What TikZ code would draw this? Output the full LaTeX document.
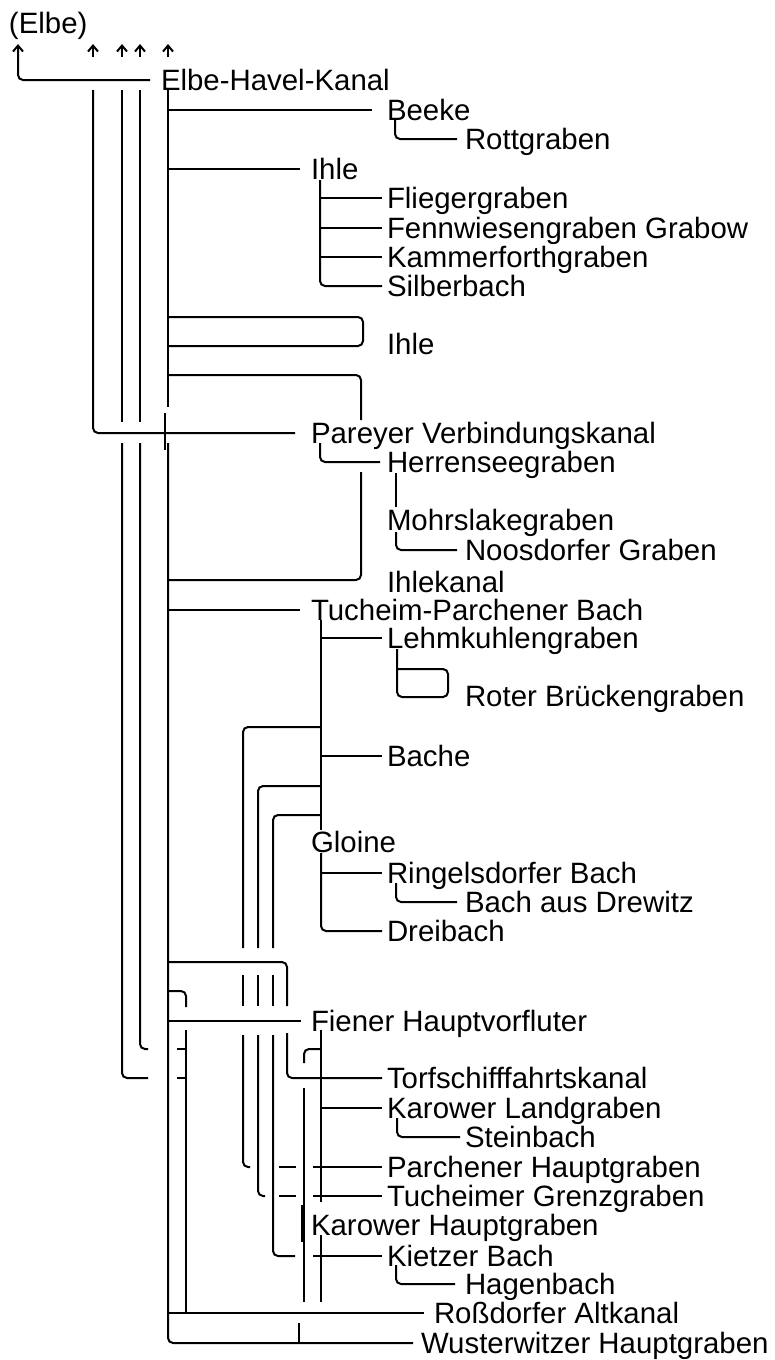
\documentclass[tikz,border=0pt]{standalone}
\usepackage{fontspec}
\setmainfont{Liberation Sans}
\usetikzlibrary{arrows.meta}

\begin{document}
\begin{tikzpicture}[x=0.5pt, y=-0.5pt, line width=1pt,
    every node/.style={font=\fontsize{14.7}{17}\selectfont},
    lbl/.style={anchor=west, inner sep=0pt, text height=10.5pt, text depth=0pt, xshift=-1pt},
    river/.style={rounded corners=2.5pt},
    upflow/.style={-{Straight Barb[length=3pt,width=5pt]}}]
    \useasboundingbox (0,0) rectangle (775,1360);

    \node[lbl] (elbe) at (10,23) {(Elbe)};
    \node[lbl] (ehk) at (162,80) {Elbe-Havel-Kanal};
    \node[lbl] (beeke) at (388,110) {Beeke};
    \node[lbl] (rott) at (466,139) {Rottgraben};
    \node[lbl] (ihleA) at (312,169) {Ihle};
    \node[lbl] (flieg) at (388,198) {Fliegergraben};
    \node[lbl] (fenn) at (388,228) {Fennwiesengraben Grabow};
    \node[lbl] (kamm) at (388,257) {Kammerforthgraben};
    \node[lbl] (silber) at (388,286) {Silberbach};
    \node[lbl] (ihleB) at (388,344) {Ihle};
    \node[lbl] (pareyer) at (312,433) {Pareyer Verbindungskanal};
    \node[lbl] (herren) at (388,462) {Herrenseegraben};
    \node[lbl] (mohr) at (388,520) {Mohrslakegraben};
    \node[lbl] (noos) at (466,550) {Noosdorfer Graben};
    \node[lbl] (ihlekanal) at (388,582) {Ihlekanal};
    \node[lbl] (tucheim) at (312,610) {Tucheim-Parchener Bach};
    \node[lbl] (lehm) at (388,638) {Lehmkuhlengraben};
    \node[lbl] (roter) at (466,696) {Roter Brückengraben};
    \node[lbl] (bache) at (388,756) {Bache};
    \node[lbl] (gloine) at (312,842) {Gloine};
    \node[lbl] (ringels) at (388,873) {Ringelsdorfer Bach};
    \node[lbl] (drewitz) at (466,902) {Bach aus Drewitz};
    \node[lbl] (drei) at (388,931) {Dreibach};
    \node[lbl] (fiener) at (312,1021) {Fiener Hauptvorfluter};
    \node[lbl] (torf) at (388,1078) {Torfschifffahrtskanal};
    \node[lbl] (karowL) at (388,1108) {Karower Landgraben};
    \node[lbl] (stein) at (466,1137) {Steinbach};
    \node[lbl] (parchH) at (388,1167) {Parchener Hauptgraben};
    \node[lbl] (tuchG) at (388,1196) {Tucheimer Grenzgraben};
    \node[lbl] (karowH) at (312,1225) {Karower Hauptgraben};
    \node[lbl] (kietz) at (388,1256) {Kietzer Bach};
    \node[lbl] (hagen) at (466,1284) {Hagenbach};
    \node[lbl] (ross) at (435,1313) {Roßdorfer Altkanal};
    \node[lbl] (wust) at (422,1343) {Wusterwitzer Hauptgraben};

    \coordinate (mouth) at (18,44);
    \coordinate (aA) at (93,90);
    \coordinate (aB) at (122,90);
    \coordinate (aC) at (140,90);
    \coordinate (trunk) at (168,90);
    \coordinate (ihleS) at (320,180);
    \coordinate (tuchS) at (321,620);
    \coordinate (gloineS) at (321,853);
    \coordinate (fienerS) at (321,1030);

    % Abfluss zur Elbe
    \draw[river, upflow] ([xshift=-5pt]ehk.west) -| (mouth);
    \foreach \x in {93,122,140,168}
        \draw[upflow] (\x,57) -- (\x,44);

    % Hauptstrang
    \draw (trunk) -- (168,407);
    \draw (165,413) -- (165,450);
    \draw[river] (168,443) |- ([xshift=-3.5pt]wust.west);
    \draw (trunk |- beeke.west) -- ([xshift=-7pt]beeke.west);
    \draw (trunk |- ihleA.west) -- ([xshift=-5pt]ihleA.west);
    \draw[river] (168,317) -| (363,346) -- (168,346);
    \draw[river] (168,375) -| (361,420);
    \draw[river] (361,472) |- (168,580);
    \draw (trunk |- tucheim.west) -- ([xshift=-5pt]tucheim.west);
    \draw[river] (168,962) -| (287,1006);
    \draw[river] (287,1033) |- ([xshift=-2pt]torf.west);
    \draw[river] (168,991) -| (186,1007);
    \draw (186,1030) -- (186,1313);
    \draw (trunk |- fiener.west) -- ([xshift=-4.5pt]fiener.west);
    \draw (trunk |- ross.west) -- ([xshift=-4.5pt]ross.west);
    \draw (299,1323) -- (299,1343);

    % linke Stränge
    \draw[river] (aA) |- ([xshift=-7.5pt]pareyer.west);
    \draw (aB) -- (122,422);
    \draw[river] (122,443) |- (148,1078);
    \draw (177,1078) -- (186,1078);
    \draw (aC) -- (140,422);
    \draw[river] (140,443) |- (148,1049);
    \draw (177,1049) -- (186,1049);

    % Beeke, Ihle
    \draw[river] (395,120) |- ([xshift=-3.5pt]rott.west);
    \draw[river] (ihleS) |- ([xshift=-2pt]silber.west);
    \foreach \n in {flieg,fenn,kamm}
        \draw (ihleS |- \n.west) -- ([xshift=-2pt]\n.west);

    % Pareyer Verbindungskanal
    \draw[river] (320,443) |- ([xshift=-3pt]herren.west);
    \draw (396,473) -- (396,507);
    \draw[river] (396,532) |- ([xshift=-3.5pt]noos.west);

    % Tucheim-Parchener Bach
    \draw (tuchS) -- (321,830);
    \draw (tuchS |- lehm.west) -- ([xshift=-2pt]lehm.west);
    \draw (tuchS |- bache.west) -- ([xshift=-2pt]bache.west);
    \draw[river] (397,649) -- (397,697) -- (448,697) -- (448,669) -- (397,669);
    \draw[river] (321,727) -| (243,948);
    \draw[river] (321,786) -| (258,948);
    \draw[river] (321,815) -| (273,948);
    \foreach \x in {243,258,273}
        \draw (\x,975) -- (\x,1006);
    \draw[river] (243,1035) |- (250,1167);
    \draw[river] (258,1035) |- (265,1196);
    \draw[river] (273,1035) |- (295,1256);
    \draw (279,1167) -- (296,1167);
    \draw (279,1196) -- (296,1196);
    \draw (313,1167) -- ([xshift=-2pt]parchH.west);
    \draw (313,1196) -- ([xshift=-2pt]tuchG.west);
    \draw (313,1256) -- ([xshift=-2pt]kietz.west);

    % Gloine
    \draw[river] (gloineS) |- ([xshift=-2pt]drei.west);
    \draw (gloineS |- ringels.west) -- ([xshift=-2pt]ringels.west);
    \draw[river] (396,883) |- ([xshift=-3.5pt]drewitz.west);

    % Fiener Hauptvorfluter
    \draw (fienerS) -- (321,1202);
    \draw (321,1235) -- (321,1302);
    \draw[river] (321,1049) -| (304,1063);
    \draw (304,1088) -- (304,1302);
    \draw (302,1205) -- (302,1242);
    \draw (fienerS |- karowL.west) -- ([xshift=-2pt]karowL.west);
    \draw[river] (397,1118) |- ([xshift=-2pt]stein.west);
    \draw[river] (396,1265) |- ([xshift=-4.5pt]hagen.west);
\end{tikzpicture}
\end{document}
